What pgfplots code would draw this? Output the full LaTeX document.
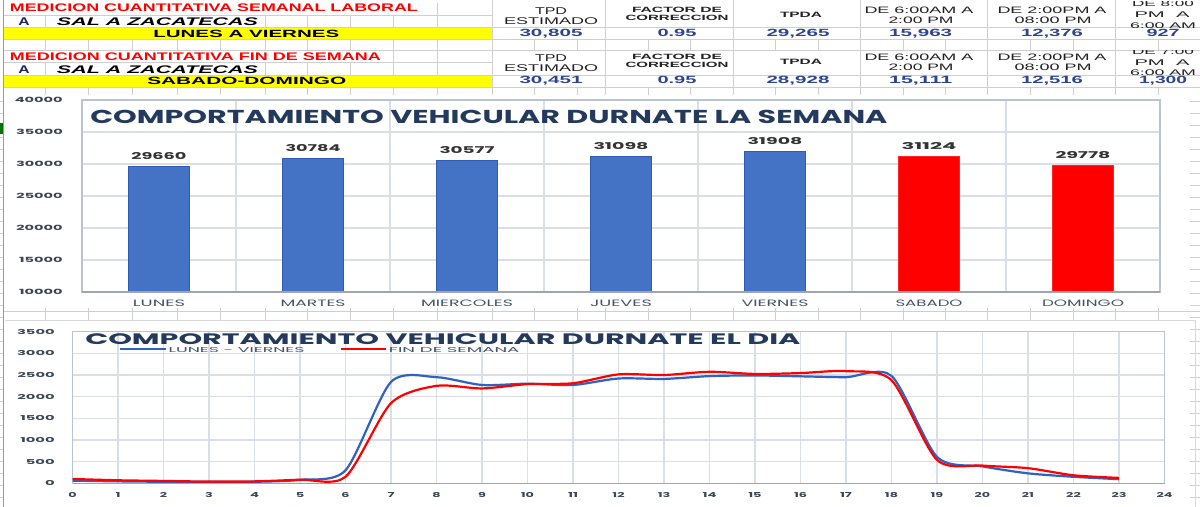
\documentclass[border=0pt]{standalone}
\usepackage{fontspec}
\usepackage{graphicx}
\usepackage{pgfplots}
\pgfplotsset{compat=1.18}
\setmainfont{Liberation Sans}
\newfontfamily\chf{Poppins}
\newlength\pxu \setlength\pxu{0.75pt}
\definecolor{barblue}{HTML}{4472C4}
\definecolor{baredge}{HTML}{2F5BB7}
\definecolor{lineblue}{HTML}{2E62C4}
\definecolor{ttl}{HTML}{243A5C}
\definecolor{lblc}{HTML}{44546A}
\definecolor{tickc}{HTML}{3A4556}
\definecolor{grd}{HTML}{D9DEE7}
\definecolor{axc}{HTML}{B8C3D3}
\definecolor{sheet}{HTML}{CFCFCF}
\definecolor{yel}{HTML}{FFFF00}
\definecolor{valc}{HTML}{2B4593}
\definecolor{hdr}{HTML}{222222}
\newcommand{\fit}[3]{\resizebox{#1\pxu}{#2\pxu}{\raisebox{0pt}[\height][0pt]{#3}}}
\newcommand{\fith}[3]{\resizebox{!}{#1\pxu}{\scalebox{#2}[1]{\raisebox{0pt}[\height][0pt]{#3}}}}
\newcommand{\yb}[1]{{\fith{5.3}{2.05}{\chf\bfseries #1}}}
\newcommand{\yl}[1]{{\fith{5}{2.2}{\chf\bfseries #1}}}
\newcommand{\xl}[1]{{\fith{5}{1.9}{\chf\bfseries #1}}}
\begin{document}
\begin{tikzpicture}
\path[use as bounding box] (0,0) rectangle (900pt,-380.25pt);
\fill[white] (0,0) rectangle (900pt,-380.25pt);
\begin{scope}[x=\pxu,y=-\pxu]
% yellow bands
\fill[yel] (3,27.3) rectangle (491.7,39.3);
\fill[yel] (3,75) rectangle (491.7,87.3);
% sheet grid
\begin{scope}[sheet, line width=1\pxu]
\foreach \yy in {15,27.3,39.3,50.5,62.7,75,87.3} \draw (3,\yy) -- (491.7,\yy);
\foreach \yy in {27.3,39.3,50.5,75,87.3} \draw (491.7,\yy) -- (1200,\yy);
\foreach \xx in {45,88,132,177,220,265,307,350,393,437,492,534,577,605,648,690,733,775,818,860,903,945,987,1030,1073,1115,1158} {
  \draw (\xx,39.3) -- (\xx,50.5);
  \draw (\xx,87.3) -- (\xx,95);
  \draw (\xx,308) -- (\xx,320);
}
\foreach \xx in {45,265,307,350,393,437} { \draw (\xx,15) -- (\xx,27.3); \draw (\xx,62.7) -- (\xx,75); }
\draw (437,3) -- (437,15); \draw (393,50.5) -- (393,62.7); \draw (437,50.5) -- (437,62.7);
\foreach \xx in {492,605,733,860,987,1115} { \draw (\xx,0) -- (\xx,39.3); \draw (\xx,50.5) -- (\xx,87.3); }
\draw (3,311.7) -- (1200,311.7);
\foreach \yy in {101,113,...,507} { \draw (1190,\yy) -- (1200,\yy); \draw (0,\yy) -- (3,\yy); }
\end{scope}
\draw[gray!80, line width=1\pxu] (3,0) -- (3,507);
\fill[green!45!black] (0,123) rectangle (2.5,134);
% line chart area border
\draw[sheet!80, line width=1\pxu] (5,320) -- (1195,320) -- (1195,510);
% table text
\node[anchor=west,inner sep=0pt] at (9.6,8) {\fit{408}{7.7}{\color{red}\bfseries MEDICION CUANTITATIVA SEMANAL LABORAL}};
\node[anchor=west,inner sep=0pt] at (9.6,57) {\fit{371}{7.7}{\color{red}\bfseries MEDICION CUANTITATIVA FIN DE SEMANA}};
\node[inner sep=0pt] at (24,22) {\fith{7.7}{1.4}{\color{valc!60!black}\bfseries A}};
\node[inner sep=0pt] at (24,69.5) {\fith{7.7}{1.4}{\color{valc!60!black}\bfseries A}};
\node[anchor=west,inner sep=0pt] at (56.7,22) {\fit{201}{7.7}{\bfseries\itshape SAL A ZACATECAS}};
\node[anchor=west,inner sep=0pt] at (56.7,69.5) {\fit{201}{7.7}{\bfseries\itshape SAL A ZACATECAS}};
\node[anchor=west,inner sep=0pt] at (153,33.5) {\fit{186}{7.3}{\bfseries LUNES A VIERNES}};
\node[anchor=west,inner sep=0pt] at (147,81) {\fit{199}{7.3}{\bfseries SABADO-DOMINGO}};
% header columns
\foreach \yo in {0,47} {
\node[inner sep=0pt] at (551,11+\yo) {\fit{32}{6.8}{\color{hdr}TPD}};
\node[inner sep=0pt] at (551,21+\yo) {\fit{94}{6.8}{\color{hdr}ESTIMADO}};
\node[inner sep=0pt] at (677,10+\yo) {\fit{90}{5.3}{\color{hdr}\bfseries FACTOR DE}};
\node[inner sep=0pt] at (677,18.3+\yo) {\fit{103}{5.3}{\color{hdr}\bfseries CORRECCION}};
\node[inner sep=0pt] at (801,15+\yo) {\fit{42}{5.3}{\color{hdr}\bfseries TPDA}};
\node[inner sep=0pt] at (919,10+\yo) {\fit{109}{6.5}{\color{hdr}DE 6:00AM A}};
\node[inner sep=0pt] at (921,20.7+\yo) {\fit{65}{6.5}{\color{hdr}2:00 PM}};
\node[inner sep=0pt] at (1052,10+\yo) {\fit{109}{6.5}{\color{hdr}DE 2:00PM A}};
\node[inner sep=0pt] at (1053,20.7+\yo) {\fit{77}{6.5}{\color{hdr}08:00 PM}};
}
\begin{scope}
\clip (1115,1.5) rectangle (1200,27.3);
\node[inner sep=0pt] at (1163,3.5) {\fit{62}{5.7}{\color{hdr}DE 8:00}};
\node[inner sep=0pt] at (1162,14.5) {\fit{55}{5.7}{\color{hdr}PM\ \ A}};
\node[inner sep=0pt] at (1163,25.3) {\fit{66}{5.7}{\color{hdr}6:00 AM}};
\end{scope}
\begin{scope}
\clip (1115,50.5) rectangle (1200,75);
\node[inner sep=0pt] at (1163,51.5) {\fit{62}{5.7}{\color{hdr}DE 7:00}};
\node[inner sep=0pt] at (1162,62.5) {\fit{55}{5.7}{\color{hdr}PM\ \ A}};
\node[inner sep=0pt] at (1163,72.8) {\fit{66}{5.7}{\color{hdr}6:00 AM}};
\end{scope}
% values
\node[inner sep=0pt] at (551,33.3) {\fit{63}{7.3}{\color{valc}\bfseries 30,805}};
\node[inner sep=0pt] at (677,33.3) {\fit{39}{7.3}{\color{valc}\bfseries 0.95}};
\node[inner sep=0pt] at (798,33.3) {\fit{63}{7.3}{\color{valc}\bfseries 29,265}};
\node[inner sep=0pt] at (920.7,33.3) {\fit{63}{7.3}{\color{valc}\bfseries 15,963}};
\node[inner sep=0pt] at (1052,33.3) {\fit{62}{7.3}{\color{valc}\bfseries 12,376}};
\node[inner sep=0pt] at (1163,33.3) {\fit{33}{7.3}{\color{valc}\bfseries 927}};
\node[inner sep=0pt] at (551,80) {\fit{63}{7.3}{\color{valc}\bfseries 30,451}};
\node[inner sep=0pt] at (677,79.5) {\fit{39}{7.3}{\color{valc}\bfseries 0.95}};
\node[inner sep=0pt] at (798,79.5) {\fit{63}{7.3}{\color{valc}\bfseries 28,928}};
\node[inner sep=0pt] at (920.7,79.5) {\fit{63}{7.3}{\color{valc}\bfseries 15,111}};
\node[inner sep=0pt] at (1052,79.5) {\fit{62}{7.3}{\color{valc}\bfseries 12,516}};
\node[inner sep=0pt] at (1163,79.8) {\fit{48}{7.3}{\color{valc}\bfseries 1,300}};
\end{scope}
% ---------------- bar chart ----------------
\begin{axis}[
  at={(61.5pt,-219pt)}, anchor=south west,
  scale only axis, width=1078\pxu, height=192\pxu,
  xmin=-0.5, xmax=6.5, ymin=10000, ymax=40000,
  scaled y ticks=false,
  xtick={0,...,6},
  xticklabels={{\fit{52}{6.5}{\chf LUNES}},{\fit{65}{6.5}{\chf MARTES}},{\fit{92}{6.5}{\chf MIERCOLES}},{\fit{62}{6.5}{\chf JUEVES}},{\fit{67}{6.5}{\chf VIERNES}},{\fit{67}{6.5}{\chf SABADO}},{\fit{82}{6.5}{\chf DOMINGO}}},
  ytick={10000,15000,20000,25000,30000,35000,40000},
  yticklabels={\yb{10000},\yb{15000},\yb{20000},\yb{25000},\yb{30000},\yb{35000},\yb{40000}},
  minor xtick={0.5,1.5,...,5.5},
  ymajorgrids, xminorgrids,
  grid style={draw=grd, line width=1.5\pxu},
  minor grid style={draw=grd, line width=1.5\pxu},
  major tick length=0pt, minor tick length=0pt,
  tick style={draw=none},
  axis line style={draw=axc, line width=1.2\pxu},
  xticklabel style={text=lblc, anchor=center, inner sep=0pt, yshift=-11\pxu},
  yticklabel style={text=tickc, anchor=east, inner sep=0pt, xshift=-19\pxu},
  point meta=explicit symbolic,
  nodes near coords={\fit{55}{7}{\chf\bfseries\pgfplotspointmeta}},
  every node near coord/.append style={text=black!80, anchor=south, inner sep=0pt, yshift=6.5\pxu},
]
\addplot[ybar, bar shift=0pt, bar width=61\pxu, fill=barblue, draw=baredge, line width=1\pxu]
  coordinates {(0,29660) [29660] (1,30784) [30784] (2,30577) [30577] (3,31098) [31098] (4,31908) [31908]};
\addplot[ybar, bar shift=0pt, bar width=61\pxu, fill=red, draw=red!85!white, line width=1\pxu]
  coordinates {(5,31124) [31124] (6,29778) [29778]};
\draw[axc!85!black, line width=1.3\pxu] (rel axis cs:0,0) -- (rel axis cs:1,0);
\end{axis}
% ---------------- line chart ----------------
\begin{axis}[
  at={(54.375pt,-362.475pt)}, anchor=south west,
  scale only axis, width=1092\pxu, height=151.6\pxu,
  xmin=0, xmax=24, ymin=0, ymax=3500,
  xtick={0,...,24},
  xticklabels={\xl{0},\xl{1},\xl{2},\xl{3},\xl{4},\xl{5},\xl{6},\xl{7},\xl{8},\xl{9},\xl{10},\xl{11},\xl{12},\xl{13},\xl{14},\xl{15},\xl{16},\xl{17},\xl{18},\xl{19},\xl{20},\xl{21},\xl{22},\xl{23},\xl{24}},
  ytick={0,500,...,3500},
  yticklabels={\yl{0},\yl{500},\yl{1000},\yl{1500},\yl{2000},\yl{2500},\yl{3000},\yl{3500}},
  xmajorgrids, ymajorgrids,
  grid style={draw=grd, line width=1.5\pxu},
  major tick length=0pt, tick style={draw=none},
  axis line style={draw=axc, line width=1.2\pxu},
  xticklabel style={text=tickc, anchor=center, inner sep=0pt, yshift=-11.7\pxu},
  yticklabel style={text=tickc, anchor=east, inner sep=0pt, xshift=-17.5\pxu},
  legend columns=2,
  legend style={at={(0.0426,0.872)}, anchor=west, draw=none, fill=none, inner sep=0pt,
    nodes={inner sep=0pt, anchor=west, text=lblc},
    /tikz/every even column/.append style={column sep=35\pxu},
    /tikz/every odd column/.append style={column sep=1.5\pxu}},
  legend image code/.code={\draw[#1, line width=2.2\pxu] (0,2.5\pxu) -- (45.6\pxu,2.5\pxu);},
]
\addplot[lineblue, line width=2.2\pxu, smooth, tension=0.45, no markers] coordinates {
(0,60) (1,45) (2,35) (3,30) (4,35) (5,80) (6,300) (7,2340) (8,2450) (9,2270) (10,2300) (11,2270)
(12,2420) (13,2410) (14,2475) (15,2490) (16,2470) (17,2450) (18,2480) (19,610) (20,390) (21,230) (22,150) (23,95)};
\addlegendentry{\fit{136}{5}{\chf LUNES - VIERNES}}
\addplot[red, line width=2.2\pxu, smooth, tension=0.45, no markers] coordinates {
(0,100) (1,70) (2,55) (3,40) (4,45) (5,85) (6,150) (7,1850) (8,2250) (9,2190) (10,2290) (11,2310)
(12,2515) (13,2500) (14,2575) (15,2525) (16,2545) (17,2590) (18,2380) (19,540) (20,410) (21,350) (22,185) (23,125)};
\addlegendentry{\fit{130.5}{5}{\chf FIN DE SEMANA}}
\draw[axc!85!black, line width=1.3\pxu] (rel axis cs:0,0) -- (rel axis cs:1,0);
\end{axis}
% titles
\begin{scope}[x=\pxu,y=-\pxu]
\node[anchor=west,inner sep=0pt] at (90,116.7) {\fit{797}{13.3}{\color{ttl}\chf\bfseries COMPORTAMIENTO VEHICULAR DURNATE LA SEMANA}};
\node[anchor=west,inner sep=0pt] at (85,339.2) {\fit{715}{10.8}{\color{ttl}\chf\bfseries COMPORTAMIENTO VEHICULAR DURNATE EL DIA}};
\end{scope}
\end{tikzpicture}
\end{document}
